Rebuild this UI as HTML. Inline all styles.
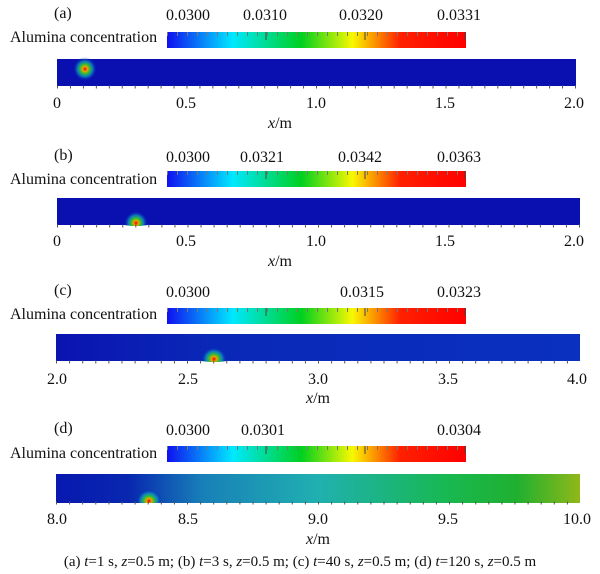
<!DOCTYPE html>
<html><head><meta charset="utf-8"><style>
html,body{margin:0;padding:0;background:#fff}
svg{display:block}
text{font-family:"Liberation Serif",serif;font-size:16px;fill:#111}
</style></head><body>
<svg width="600" height="574" viewBox="0 0 600 574" xmlns="http://www.w3.org/2000/svg">
<defs>
<linearGradient id="cb" x1="0" x2="1" y1="0" y2="0">
<stop offset="0" stop-color="#1010f0"/>
<stop offset="0.22" stop-color="#00e8ff"/>
<stop offset="0.45" stop-color="#00d020"/>
<stop offset="0.62" stop-color="#f8f800"/>
<stop offset="0.78" stop-color="#ff2000"/>
<stop offset="1" stop-color="#ff0000"/>
</linearGradient>
<radialGradient id="spot">
<stop offset="0" stop-color="#e00000"/>
<stop offset="0.2" stop-color="#f0a000"/>
<stop offset="0.4" stop-color="#30c030"/>
<stop offset="0.65" stop-color="#10a0c0" stop-opacity="0.7"/>
<stop offset="1" stop-color="#0010b0" stop-opacity="0"/>
</radialGradient>
<linearGradient id="dc" x1="0" x2="1">
<stop offset="0" stop-color="#0a14b0"/>
<stop offset="0.3" stop-color="#0a28b8"/>
<stop offset="1" stop-color="#0a30c0"/>
</linearGradient>
<linearGradient id="dd" x1="0" x2="1">
<stop offset="0" stop-color="#0818b0"/>
<stop offset="0.14" stop-color="#0828b0"/>
<stop offset="0.28" stop-color="#1880b8"/>
<stop offset="0.5" stop-color="#20b0b0"/>
<stop offset="0.75" stop-color="#18b850"/>
<stop offset="0.88" stop-color="#20b030"/>
<stop offset="1" stop-color="#90b818"/>
</linearGradient>
</defs>

<!-- Panel a -->
<g>
<text x="54" y="18">(a)</text>
<text x="166" y="20">0.0300</text><text x="243" y="20">0.0310</text><text x="339" y="20">0.0320</text><text x="437" y="20">0.0331</text>
<text x="10" y="42">Alumina concentration</text>
<rect x="167" y="32" width="299" height="16" fill="url(#cb)"/>
<line x1="167" y1="34" x2="466" y2="34" stroke="#777" stroke-width="4" stroke-dasharray="1 9"/>
<line x1="266" y1="32" x2="266" y2="40" stroke="#444"/><line x1="365" y1="32" x2="365" y2="40" stroke="#444"/><line x1="465" y1="32" x2="465" y2="40" stroke="#444"/>
<rect x="57" y="59" width="519" height="27" fill="#0a10b0"/>
<ellipse cx="85" cy="69" rx="12" ry="12" fill="url(#spot)"/>
<line x1="57" y1="87" x2="576" y2="87" stroke="#555" stroke-width="3" stroke-dasharray="1 11.95"/>
<text x="57" y="108" text-anchor="middle">0</text><text x="186" y="108" text-anchor="middle">0.5</text><text x="316" y="108" text-anchor="middle">1.0</text><text x="445" y="108" text-anchor="middle">1.5</text><text x="574" y="108" text-anchor="middle">2.0</text>
<text x="280" y="128" text-anchor="middle"><tspan font-style="italic">x</tspan>/m</text>
</g>

<!-- Panel b -->
<g>
<text x="54" y="160">(b)</text>
<text x="166" y="162">0.0300</text><text x="240" y="162">0.0321</text><text x="338" y="162">0.0342</text><text x="437" y="162">0.0363</text>
<text x="10" y="184">Alumina concentration</text>
<rect x="167" y="171" width="299" height="16" fill="url(#cb)"/>
<line x1="167" y1="173" x2="466" y2="173" stroke="#777" stroke-width="4" stroke-dasharray="1 9"/>
<line x1="266" y1="171" x2="266" y2="179" stroke="#444"/><line x1="365" y1="171" x2="365" y2="179" stroke="#444"/><line x1="465" y1="171" x2="465" y2="179" stroke="#444"/>
<rect x="57" y="198" width="523" height="27" fill="#0a10b0"/>
<ellipse cx="136" cy="223" rx="12" ry="12" fill="url(#spot)"/>
<rect x="57" y="226" width="523" height="10" fill="#fff"/>
<line x1="57" y1="226" x2="580" y2="226" stroke="#555" stroke-width="3" stroke-dasharray="1 12.05"/>
<text x="57" y="246" text-anchor="middle">0</text><text x="186" y="246" text-anchor="middle">0.5</text><text x="316" y="246" text-anchor="middle">1.0</text><text x="445" y="246" text-anchor="middle">1.5</text><text x="574" y="246" text-anchor="middle">2.0</text>
<text x="280" y="266" text-anchor="middle"><tspan font-style="italic">x</tspan>/m</text>
</g>

<!-- Panel c -->
<g>
<text x="54" y="295">(c)</text>
<text x="166" y="297">0.0300</text><text x="340" y="297">0.0315</text><text x="437" y="297">0.0323</text>
<text x="10" y="319">Alumina concentration</text>
<rect x="167" y="308" width="299" height="16" fill="url(#cb)"/>
<line x1="167" y1="310" x2="466" y2="310" stroke="#777" stroke-width="4" stroke-dasharray="1 9"/>
<line x1="266" y1="308" x2="266" y2="316" stroke="#444"/><line x1="365" y1="308" x2="365" y2="316" stroke="#444"/><line x1="465" y1="308" x2="465" y2="316" stroke="#444"/>
<rect x="56" y="334" width="524" height="27" fill="url(#dc)"/>
<ellipse cx="214" cy="359" rx="13" ry="12" fill="url(#spot)"/>
<rect x="56" y="362" width="524" height="10" fill="#fff"/>
<line x1="56" y1="362" x2="580" y2="362" stroke="#555" stroke-width="3" stroke-dasharray="1 12.1"/>
<text x="57" y="384" text-anchor="middle">2.0</text><text x="188" y="384" text-anchor="middle">2.5</text><text x="318" y="384" text-anchor="middle">3.0</text><text x="448" y="384" text-anchor="middle">3.5</text><text x="577" y="384" text-anchor="middle">4.0</text>
<text x="318" y="403" text-anchor="middle"><tspan font-style="italic">x</tspan>/m</text>
</g>

<!-- Panel d -->
<g>
<text x="54" y="433">(d)</text>
<text x="166" y="435">0.0300</text><text x="241" y="435">0.0301</text><text x="437" y="435">0.0304</text>
<text x="10" y="458">Alumina concentration</text>
<rect x="167" y="446" width="299" height="16" fill="url(#cb)"/>
<line x1="167" y1="448" x2="466" y2="448" stroke="#777" stroke-width="4" stroke-dasharray="1 9"/>
<line x1="266" y1="446" x2="266" y2="454" stroke="#444"/><line x1="365" y1="446" x2="365" y2="454" stroke="#444"/><line x1="465" y1="446" x2="465" y2="454" stroke="#444"/>
<rect x="56" y="474" width="524" height="29" fill="url(#dd)"/>
<ellipse cx="149" cy="501" rx="13" ry="12" fill="url(#spot)"/>
<rect x="56" y="503" width="524" height="10" fill="#fff"/>
<line x1="56" y1="503" x2="580" y2="503" stroke="#555" stroke-width="3" stroke-dasharray="1 12.1"/>
<text x="57" y="524" text-anchor="middle">8.0</text><text x="188" y="524" text-anchor="middle">8.5</text><text x="318" y="524" text-anchor="middle">9.0</text><text x="448" y="524" text-anchor="middle">9.5</text><text x="577" y="524" text-anchor="middle">10.0</text>
<text x="318" y="544" text-anchor="middle"><tspan font-style="italic">x</tspan>/m</text>
</g>

<text x="300" y="566" text-anchor="middle" style="font-size:15px">(a) <tspan font-style="italic">t</tspan>=1 s, <tspan font-style="italic">z</tspan>=0.5 m; (b) <tspan font-style="italic">t</tspan>=3 s, <tspan font-style="italic">z</tspan>=0.5 m; (c) <tspan font-style="italic">t</tspan>=40 s, <tspan font-style="italic">z</tspan>=0.5 m; (d) <tspan font-style="italic">t</tspan>=120 s, <tspan font-style="italic">z</tspan>=0.5 m</text>
</svg>
</body></html>
